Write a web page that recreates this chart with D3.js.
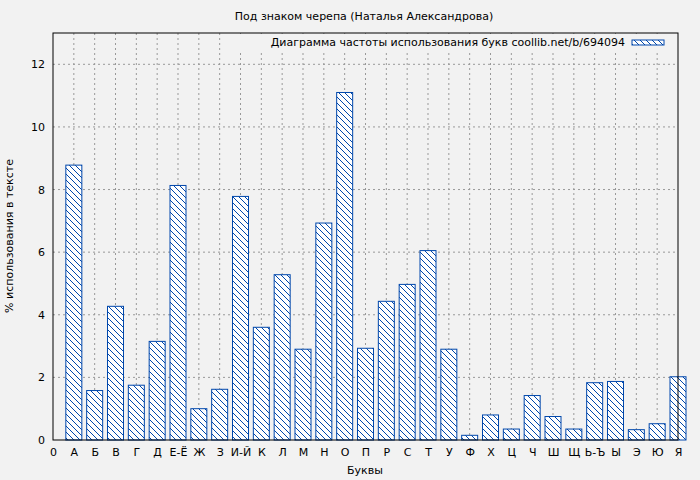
<!DOCTYPE html><html><head><meta charset="utf-8">
<script src="https://cdn.jsdelivr.net/npm/d3@7"></script>
<style>body{margin:0;background:#f2f2f2}text{font-family:"DejaVu Sans",sans-serif;font-size:11px;fill:#000}</style></head><body>
<svg id="c" width="700" height="480"></svg>
<script>
const xLabels=["0","А","Б","В","Г","Д","Е-Ё","Ж","З","И-Й","К","Л","М","Н","О","П","Р","С","Т","У","Ф","Х","Ц","Ч","Ш","Щ","Ь-Ъ","Ы","Э","Ю","Я"];
const categories=xLabels.slice(1);
const values=[8.78,1.58,4.27,1.75,3.15,8.13,1.0,1.62,7.78,3.6,5.28,2.9,6.93,11.1,2.93,4.43,4.97,6.05,2.9,0.15,0.8,0.35,1.42,0.75,0.35,1.83,1.87,0.33,0.52,2.02];
const yTicks=[0,2,4,6,8,10,12];
const svg=d3.select("#c");
const L=53,R=678,T=33,B=440;
const x=d3.scaleLinear().domain([0,30]).range([L,R]);
const y=d3.scaleLinear().domain([0,13]).range([B,T]);
const blue="#0047ab";
const defs=svg.append("defs");
const p=defs.append("pattern").attr("id","h").attr("patternUnits","userSpaceOnUse").attr("width",6).attr("height",6);
p.append("rect").attr("width",6).attr("height",6).attr("fill","#fff");
p.append("path").attr("d","M-1,-1L7,7M-1,5L1,7M5,-1L7,1").attr("stroke",blue).attr("stroke-width",1);
svg.append("rect").attr("x",L).attr("y",T).attr("width",R-L).attr("height",B-T).attr("fill","#f2f2f2");
const g=svg.append("g");
g.selectAll(".vg").data(d3.range(1,30)).join("line").attr("x1",d=>x(d)).attr("x2",d=>x(d)).attr("y1",T).attr("y2",B).attr("stroke","#999").attr("stroke-dasharray","2,3");
g.selectAll(".hg").data(yTicks.slice(1)).join("line").attr("x1",L).attr("x2",R).attr("y1",d=>y(d)).attr("y2",d=>y(d)).attr("stroke","#999").attr("stroke-dasharray","2,3");
// legend bg
svg.append("rect").attr("x",240).attr("y",34).attr("width",436).attr("height",16).attr("fill","#f2f2f2");
svg.append("g").selectAll("rect").data(values).join("rect")
 .attr("x",(d,i)=>x(i+1)-8).attr("width",16).attr("y",d=>y(d)).attr("height",d=>B-y(d))
 .attr("fill","url(#h)").attr("stroke",blue).attr("stroke-width",1);
svg.append("rect").attr("x",L).attr("y",T).attr("width",R-L).attr("height",B-T).attr("fill","none").attr("stroke","#000");
svg.append("defs").append("clipPath").attr("id","cp").append("rect").attr("x",0).attr("y",0).attr("width",R).attr("height",480);
const ya=svg.append("g").attr("transform",`translate(${L},0)`).call(d3.axisLeft(y).tickValues(yTicks).tickSize(0).tickPadding(8));
ya.select(".domain").remove();ya.selectAll("text").style("font-size","11px");
const xa=svg.append("g").attr("transform",`translate(0,${B})`).call(d3.axisBottom(x).tickValues(d3.range(0,31)).tickFormat(i=>xLabels[i]).tickSize(0).tickPadding(8));
xa.select(".domain").remove();xa.selectAll("text").style("font-size","11px");
svg.append("text").attr("x",364).attr("y",20).attr("text-anchor","middle").text("Под знаком черепа (Наталья Александрова)");
svg.append("text").attr("x",625).attr("y",46).attr("text-anchor","end").text("Диаграмма частоты использования букв coollib.net/b/694094");
svg.append("rect").attr("x",632).attr("y",40).attr("width",32).attr("height",5).attr("fill","url(#h)").attr("stroke",blue);
svg.append("text").attr("x",365).attr("y",474).attr("text-anchor","middle").text("Буквы");
svg.append("text").attr("transform","translate(13,236) rotate(-90)").attr("text-anchor","middle").text("% использования в тексте");
</script></body></html>
